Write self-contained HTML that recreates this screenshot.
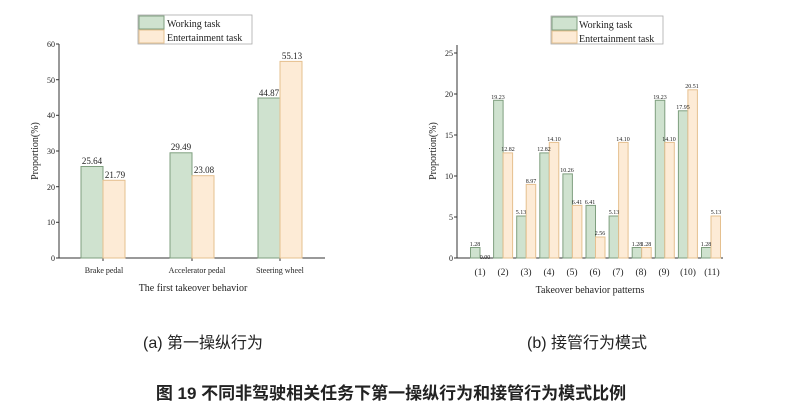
<!DOCTYPE html>
<html><head><meta charset="utf-8"><style>
body{margin:0;background:#fff;}
svg{display:block;}
.t{font-family:"Liberation Serif",serif;fill:#222;}
.c{font-family:"Liberation Sans","Noto Sans CJK SC",sans-serif;fill:#222;}
.g{fill:#cfe2cf;stroke:#7f9f7f;stroke-width:1;}
.o{fill:#fdebd6;stroke:#e5c08f;stroke-width:1;}
</style></head><body>
<svg width="785" height="408" viewBox="0 0 785 408" xmlns="http://www.w3.org/2000/svg">
<g>
<rect x="138" y="15" width="114" height="29" fill="#fff" stroke="#aaa" stroke-width="0.8"/>
<rect x="139" y="16" width="25" height="13" class="g"/>
<rect x="139" y="30" width="25" height="13" class="o"/>
<text x="167" y="27" class="t" font-size="10">Working task</text>
<text x="167" y="41" class="t" font-size="10">Entertainment task</text>
<line x1="59" y1="44" x2="59" y2="258" stroke="#333"/>
<line x1="59" y1="258" x2="325" y2="258" stroke="#333"/>
<g font-size="8" class="t" text-anchor="end">
<text x="55" y="261">0</text><text x="55" y="225">10</text><text x="55" y="190">20</text>
<text x="55" y="154">30</text><text x="55" y="118">40</text><text x="55" y="83">50</text><text x="55" y="47">60</text>
</g>
<g stroke="#333">
<line x1="56" y1="258" x2="59" y2="258"/><line x1="56" y1="222.3" x2="59" y2="222.3"/><line x1="56" y1="186.7" x2="59" y2="186.7"/><line x1="56" y1="151" x2="59" y2="151"/><line x1="56" y1="115.3" x2="59" y2="115.3"/><line x1="56" y1="79.7" x2="59" y2="79.7"/><line x1="56" y1="44" x2="59" y2="44"/>
<line x1="103" y1="258" x2="103" y2="261"/><line x1="192" y1="258" x2="192" y2="261"/><line x1="280" y1="258" x2="280" y2="261"/>
</g>
<rect x="81" y="166.5" width="22" height="91.5" class="g"/>
<rect x="103" y="180.3" width="22" height="77.7" class="o"/>
<rect x="170" y="152.8" width="22" height="105.2" class="g"/>
<rect x="192" y="175.7" width="22" height="82.3" class="o"/>
<rect x="258" y="98" width="22" height="160" class="g"/>
<rect x="280" y="61.4" width="22" height="196.6" class="o"/>
<g font-size="9" class="t" text-anchor="middle">
<text x="92" y="164">25.64</text><text x="115" y="178">21.79</text>
<text x="181" y="150">29.49</text><text x="204" y="173">23.08</text>
<text x="269" y="96">44.87</text><text x="292" y="59">55.13</text>
</g>
<g font-size="8" class="t" text-anchor="middle">
<text x="104" y="273">Brake pedal</text><text x="197" y="273">Accelerator pedal</text><text x="280" y="273">Steering wheel</text>
</g>
<text x="193" y="291" class="t" font-size="10" text-anchor="middle">The first takeover behavior</text>
<text transform="translate(38,151) rotate(-90)" class="t" font-size="10" text-anchor="middle">Proportion(%)</text>
</g>
<g>
<rect x="551" y="16" width="112" height="28" fill="#fff" stroke="#aaa" stroke-width="0.8"/>
<rect x="552" y="17" width="25" height="13" class="g"/>
<rect x="552" y="31" width="25" height="12" class="o"/>
<text x="579" y="28" class="t" font-size="10">Working task</text>
<text x="579" y="42" class="t" font-size="10">Entertainment task</text>
<line x1="457" y1="45" x2="457" y2="258" stroke="#333"/>
<line x1="457" y1="258" x2="723" y2="258" stroke="#333"/>
<g font-size="8" class="t" text-anchor="end">
<text x="453" y="261">0</text><text x="453" y="220">5</text><text x="453" y="179">10</text>
<text x="453" y="138">15</text><text x="453" y="97">20</text><text x="453" y="56">25</text>
</g>
<g stroke="#333">
<line x1="454" y1="258" x2="457" y2="258"/><line x1="454" y1="217" x2="457" y2="217"/><line x1="454" y1="176" x2="457" y2="176"/><line x1="454" y1="135" x2="457" y2="135"/><line x1="454" y1="94" x2="457" y2="94"/><line x1="454" y1="53" x2="457" y2="53"/>
</g>
<text x="590" y="293" class="t" font-size="10" text-anchor="middle">Takeover behavior patterns</text>
<text transform="translate(436,151) rotate(-90)" class="t" font-size="10" text-anchor="middle">Proportion(%)</text>
</g>
<g>
<rect x="470.5" y="247.5" width="9.5" height="10.5" class="g"/>
<rect x="493.6" y="100.3" width="9.5" height="157.7" class="g"/><rect x="503.1" y="152.9" width="9.5" height="105.1" class="o"/>
<rect x="516.7" y="216" width="9.5" height="42" class="g"/><rect x="526.2" y="184.4" width="9.5" height="73.6" class="o"/>
<rect x="539.8" y="152.9" width="9.5" height="105.1" class="g"/><rect x="549.3" y="142.4" width="9.5" height="115.6" class="o"/>
<rect x="562.9" y="173.9" width="9.5" height="84.1" class="g"/><rect x="572.4" y="205.4" width="9.5" height="52.6" class="o"/>
<rect x="586" y="205.4" width="9.5" height="52.6" class="g"/><rect x="595.5" y="237" width="9.5" height="21" class="o"/>
<rect x="609.1" y="216" width="9.5" height="42" class="g"/><rect x="618.6" y="142.4" width="9.5" height="115.6" class="o"/>
<rect x="632.2" y="247.5" width="9.5" height="10.5" class="g"/><rect x="641.7" y="247.5" width="9.5" height="10.5" class="o"/>
<rect x="655.3" y="100.3" width="9.5" height="157.7" class="g"/><rect x="664.8" y="142.4" width="9.5" height="115.6" class="o"/>
<rect x="678.4" y="110.8" width="9.5" height="147.2" class="g"/><rect x="687.9" y="89.8" width="9.5" height="168.2" class="o"/>
<rect x="701.5" y="247.5" width="9.5" height="10.5" class="g"/><rect x="711" y="216" width="9.5" height="42" class="o"/>
<g font-size="6" text-anchor="middle" class="t">
<text x="475" y="246">1.28</text><text x="485" y="259">0.00</text>
<text x="498" y="99">19.23</text><text x="508" y="151">12.82</text>
<text x="521" y="214">5.13</text><text x="531" y="183">8.97</text>
<text x="544" y="151">12.82</text><text x="554" y="141">14.10</text>
<text x="567" y="172">10.26</text><text x="577" y="204">6.41</text>
<text x="590" y="204">6.41</text><text x="600" y="235">2.56</text>
<text x="614" y="214">5.13</text><text x="623" y="141">14.10</text>
<text x="637" y="246">1.28</text><text x="646" y="246">1.28</text>
<text x="660" y="99">19.23</text><text x="669" y="141">14.10</text>
<text x="683" y="109">17.95</text><text x="692" y="88">20.51</text>
<text x="706" y="246">1.28</text><text x="716" y="214">5.13</text>
</g>
<g font-size="9.5" text-anchor="middle" class="t">
<text x="480" y="275">(1)</text><text x="503" y="275">(2)</text><text x="526" y="275">(3)</text><text x="549" y="275">(4)</text><text x="572" y="275">(5)</text><text x="595" y="275">(6)</text><text x="618" y="275">(7)</text><text x="641" y="275">(8)</text><text x="664" y="275">(9)</text><text x="688" y="275">(10)</text><text x="712" y="275">(11)</text>
</g>
</g>
<text x="143" y="348" class="c" font-size="16">(a) 第一操纵行为</text>
<text x="527" y="348" class="c" font-size="16">(b) 接管行为模式</text>
<text x="391" y="399" class="c" font-size="17" font-weight="bold" text-anchor="middle">图 19  不同非驾驶相关任务下第一操纵行为和接管行为模式比例</text>
</svg>
</body></html>
